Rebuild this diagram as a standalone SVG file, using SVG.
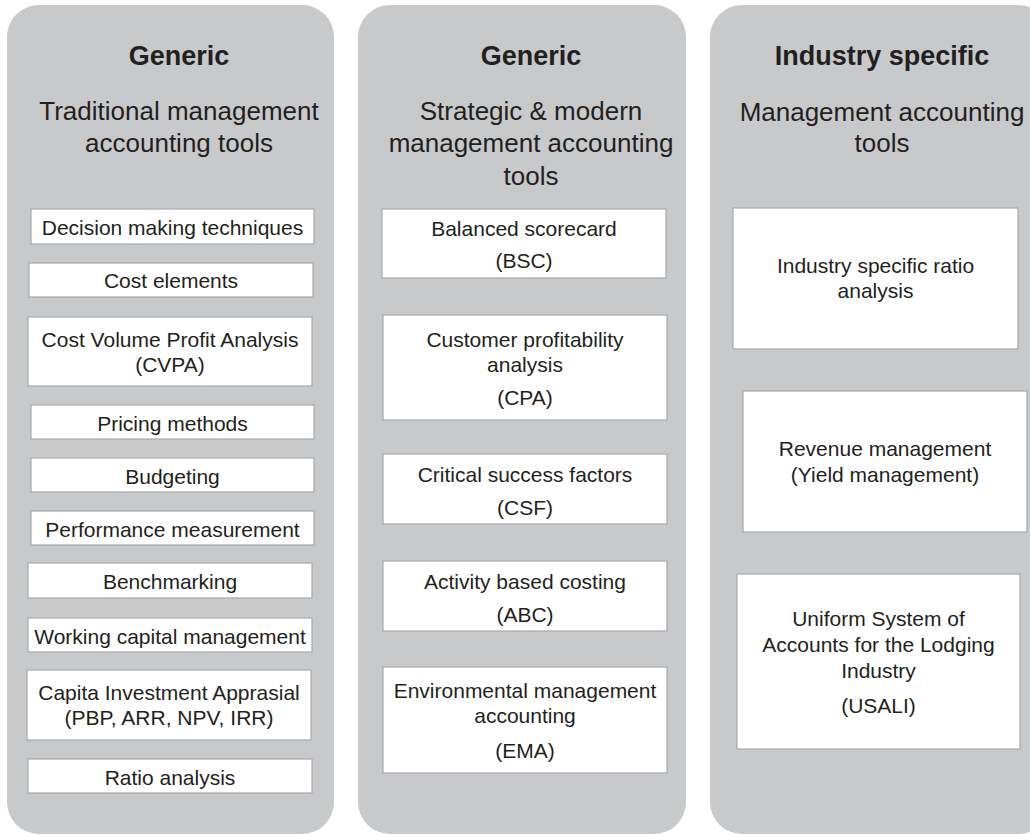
<svg xmlns="http://www.w3.org/2000/svg" width="1030" height="835" viewBox="0 0 1030 835">
<style>
.panel{fill:#c8c9cb;}
.box{fill:#ffffff;stroke:#a7a9ac;stroke-width:1.2;}
text{font-family:"Liberation Sans",Arial,sans-serif;fill:#231f20;text-anchor:middle;}
.t{font-size:27px;font-weight:bold;}
.s{font-size:26px;}
.b{font-size:21px;}
</style>
<rect width="1030" height="835" fill="#ffffff"/>
<g id="panel-traditional">
<rect class="panel" x="7" y="5" width="327" height="829" rx="32"/>
<text class="t" x="179" y="65">Generic</text>
<text class="s" x="179" y="120">Traditional management</text>
<text class="s" x="179" y="152">accounting tools</text>
</g>
<g id="panel-strategic">
<rect class="panel" x="358" y="5" width="328" height="829" rx="32"/>
<text class="t" x="531" y="65">Generic</text>
<text class="s" x="531" y="120">Strategic &amp; modern</text>
<text class="s" x="531" y="152">management accounting</text>
<text class="s" x="531" y="185">tools</text>
</g>
<g id="panel-industry">
<rect class="panel" x="710" y="5" width="340" height="829" rx="32"/>
<text class="t" x="882" y="65">Industry specific</text>
<text class="s" x="882" y="121">Management accounting</text>
<text class="s" x="882" y="152">tools</text>
</g>
<g id="connectors"/>
<g id="decision-making">
<rect class="box" x="31" y="209" width="283" height="35"/>
<text class="b" x="172.5" y="235">Decision making techniques</text>
</g>
<g id="cost-elements">
<rect class="box" x="29" y="263" width="284" height="34"/>
<text class="b" x="171" y="288">Cost elements</text>
</g>
<g id="cvpa">
<rect class="box" x="28" y="317" width="284" height="69"/>
<text class="b" x="170" y="347">Cost Volume Profit Analysis</text>
<text class="b" x="170" y="372">(CVPA)</text>
</g>
<g id="pricing">
<rect class="box" x="31" y="405" width="283" height="34"/>
<text class="b" x="172.5" y="431">Pricing methods</text>
</g>
<g id="budgeting">
<rect class="box" x="31" y="458" width="283" height="34"/>
<text class="b" x="172.5" y="484">Budgeting</text>
</g>
<g id="performance">
<rect class="box" x="31" y="511" width="283" height="34"/>
<text class="b" x="172.5" y="537">Performance measurement</text>
</g>
<g id="benchmarking">
<rect class="box" x="28" y="563" width="284" height="35"/>
<text class="b" x="170" y="589">Benchmarking</text>
</g>
<g id="working-capital">
<rect class="box" x="28" y="618" width="284" height="34"/>
<text class="b" x="170" y="644">Working capital management</text>
</g>
<g id="capital-investment">
<rect class="box" x="27" y="670" width="284" height="70"/>
<text class="b" x="169" y="700">Capita Investment Apprasial</text>
<text class="b" x="169" y="725">(PBP, ARR, NPV, IRR)</text>
</g>
<g id="ratio-analysis">
<rect class="box" x="28" y="759" width="284" height="34"/>
<text class="b" x="170" y="785">Ratio analysis</text>
</g>
<g id="bsc">
<rect class="box" x="382" y="209" width="284" height="69"/>
<text class="b" x="524" y="236">Balanced scorecard</text>
<text class="b" x="524" y="268">(BSC)</text>
</g>
<g id="cpa">
<rect class="box" x="383" y="315" width="284" height="105"/>
<text class="b" x="525" y="347">Customer profitability</text>
<text class="b" x="525" y="372">analysis</text>
<text class="b" x="525" y="405">(CPA)</text>
</g>
<g id="csf">
<rect class="box" x="383" y="454" width="284" height="70"/>
<text class="b" x="525" y="482">Critical success factors</text>
<text class="b" x="525" y="515">(CSF)</text>
</g>
<g id="abc">
<rect class="box" x="383" y="561" width="284" height="70"/>
<text class="b" x="525" y="589">Activity based costing</text>
<text class="b" x="525" y="622">(ABC)</text>
</g>
<g id="ema">
<rect class="box" x="383" y="667" width="284" height="106"/>
<text class="b" x="525" y="698">Environmental management</text>
<text class="b" x="525" y="723">accounting</text>
<text class="b" x="525" y="758">(EMA)</text>
</g>
<g id="industry-ratio">
<rect class="box" x="733" y="208" width="285" height="141"/>
<text class="b" x="875.5" y="273">Industry specific ratio</text>
<text class="b" x="875.5" y="298">analysis</text>
</g>
<g id="revenue-management">
<rect class="box" x="743" y="391" width="284" height="141"/>
<text class="b" x="885" y="456">Revenue management</text>
<text class="b" x="885" y="482">(Yield management)</text>
</g>
<g id="usali">
<rect class="box" x="737" y="574" width="283" height="175"/>
<text class="b" x="878.5" y="626">Uniform System of</text>
<text class="b" x="878.5" y="652">Accounts for the Lodging</text>
<text class="b" x="878.5" y="678">Industry</text>
<text class="b" x="878.5" y="713">(USALI)</text>
</g>
</svg>
